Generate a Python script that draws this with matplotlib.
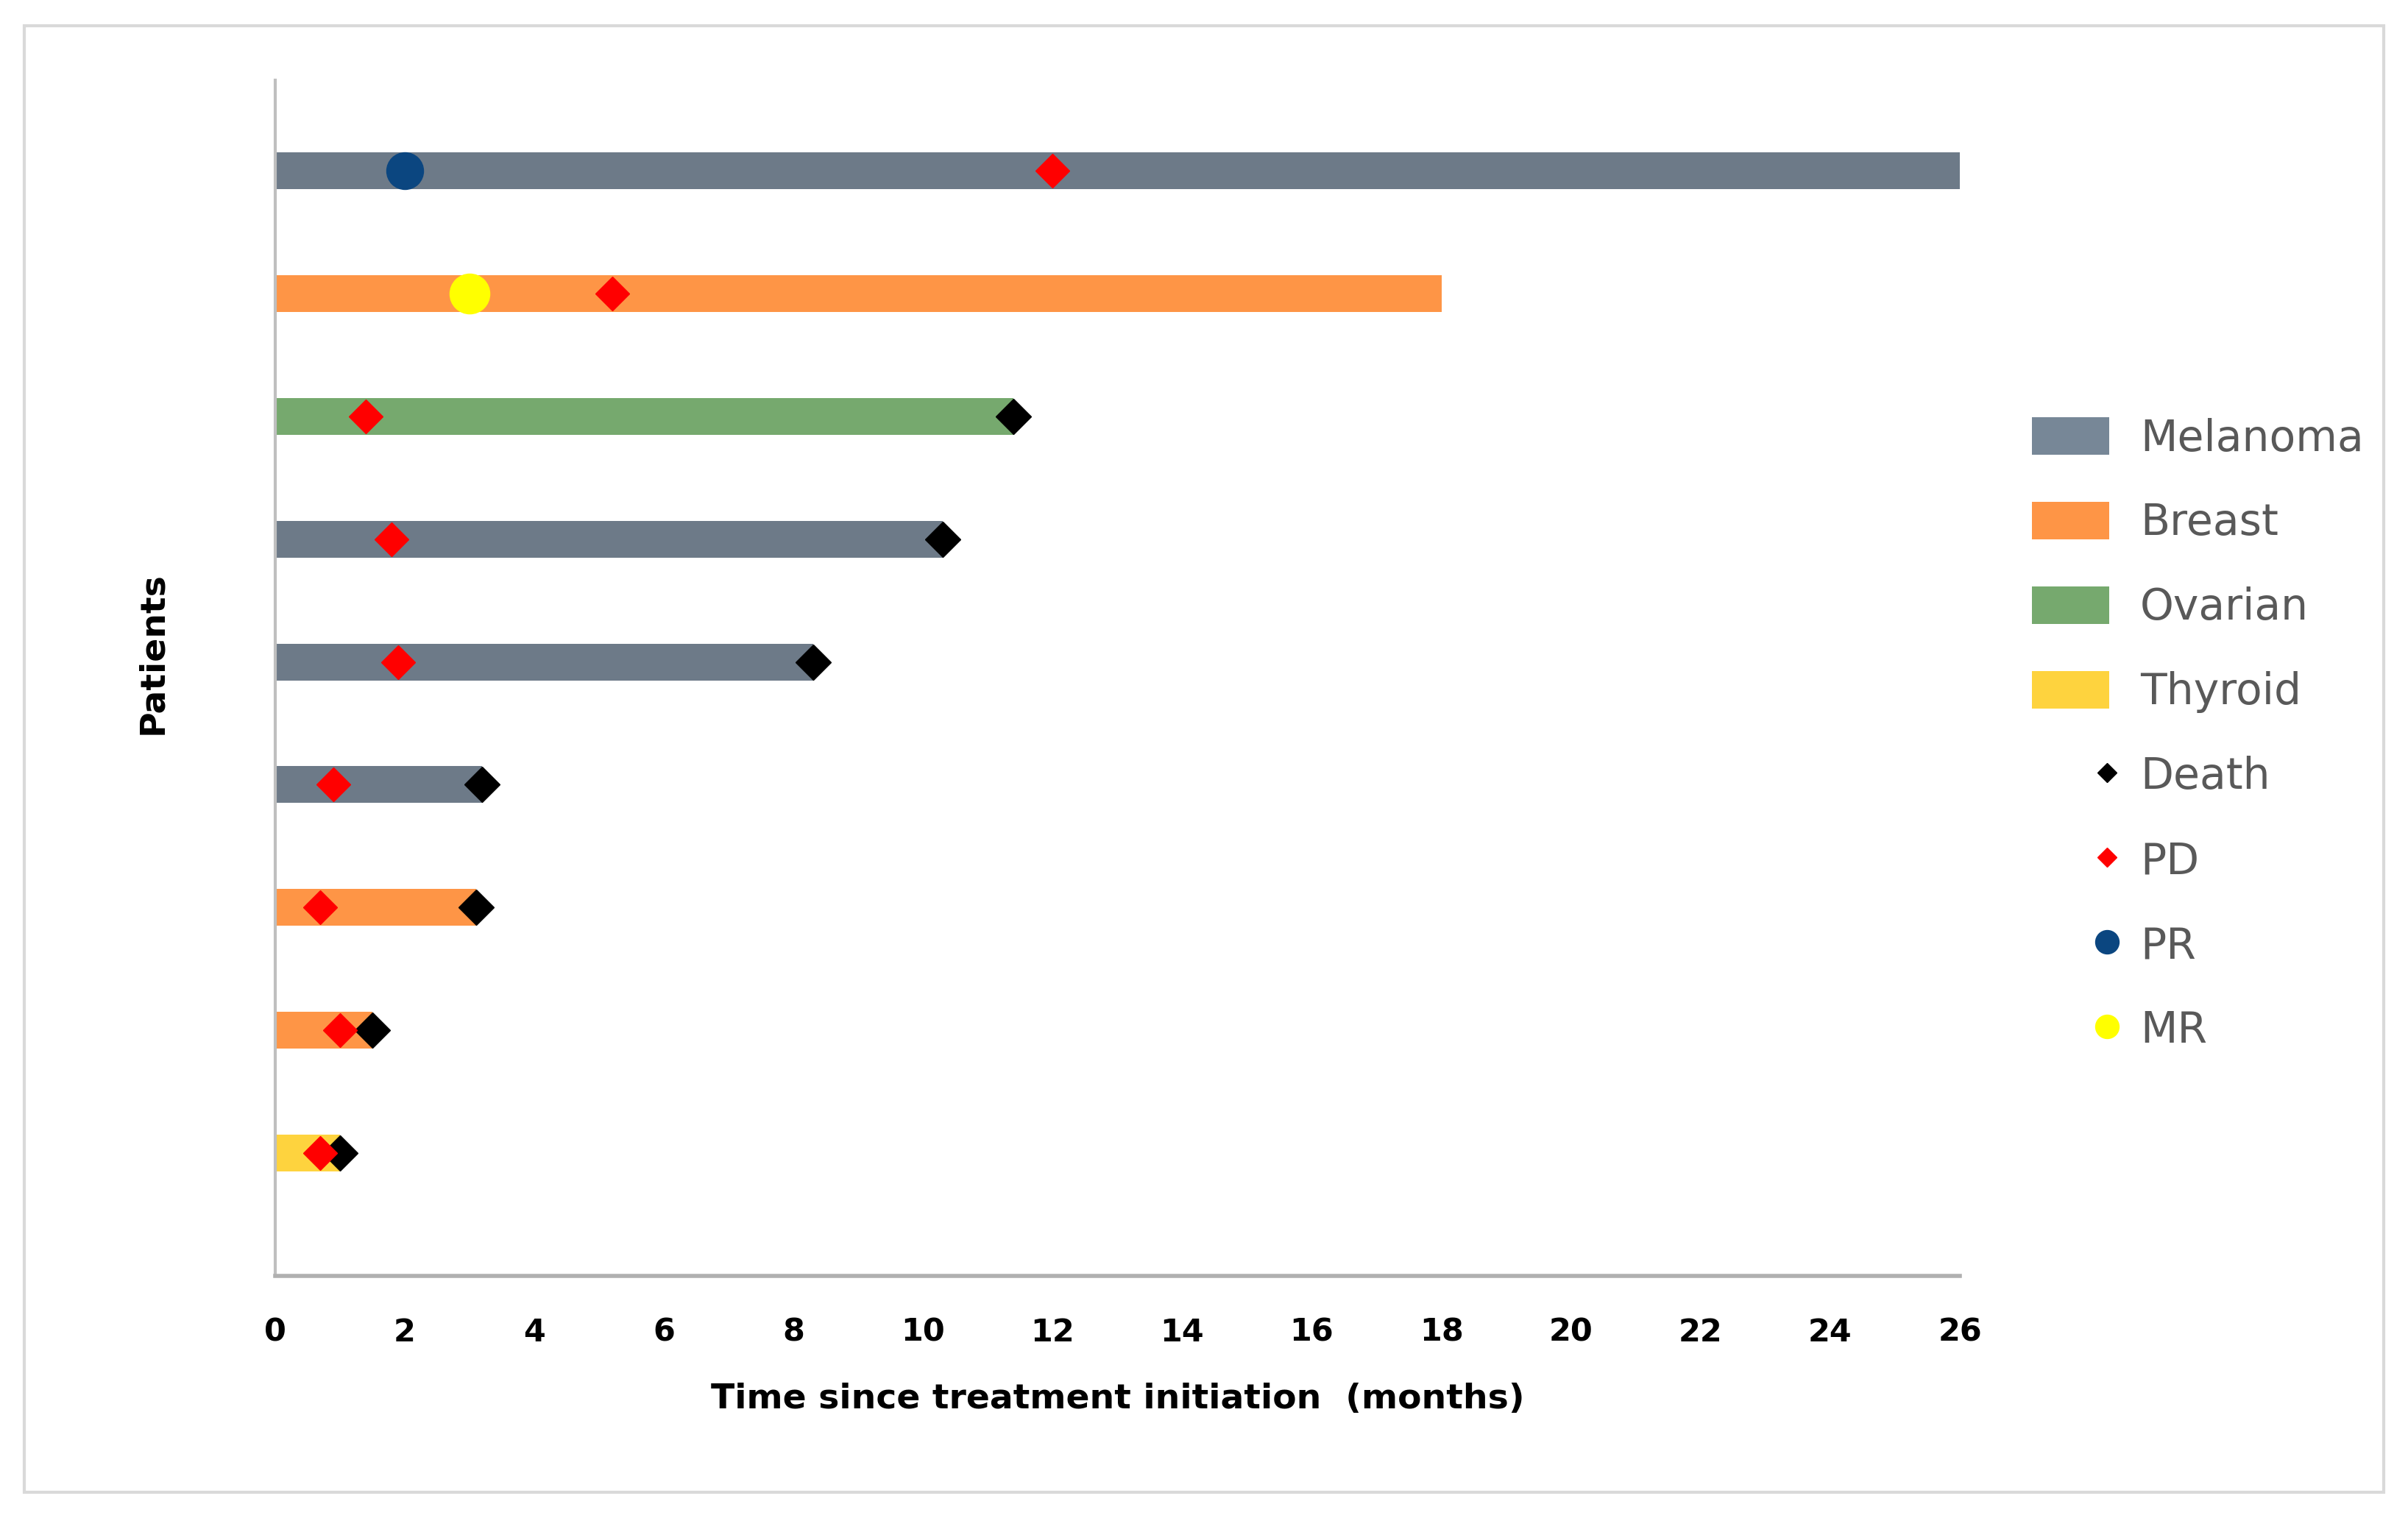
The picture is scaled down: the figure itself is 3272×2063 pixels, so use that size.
import numpy as np
import matplotlib
matplotlib.use("Agg")
import matplotlib.pyplot as plt
from matplotlib.patches import Patch, Rectangle
from matplotlib.lines import Line2D
from matplotlib.legend_handler import HandlerLine2D

# data, one row per patient, bottom row first
patients = [1, 2, 3, 4, 5, 6, 7, 8, 9]
cancer = ['Thyroid', 'Breast', 'Breast', 'Melanoma', 'Melanoma', 'Melanoma',
          'Ovarian', 'Breast', 'Melanoma']
months = [1.0, 1.5, 3.1, 3.2, 8.3, 10.3, 11.4, 18.0, 26.0]
death = [1.0, 1.5, 3.1, 3.2, 8.3, 10.3, 11.4, np.nan, np.nan]
prog = [0.7, 1.0, 0.7, 0.9, 1.9, 1.8, 1.4, 5.2, 12.0]
pr = [np.nan] * 8 + [2.0]
mr = [np.nan] * 7 + [3.0, np.nan]

cancer_types = ['Melanoma', 'Breast', 'Ovarian', 'Thyroid']
colors = {'Melanoma': '#6d7a88', 'Breast': '#fe9546', 'Ovarian': '#76a96e', 'Thyroid': '#fed33e'}
leg_colors = {'Melanoma': '#778797', 'Breast': '#fe9546', 'Ovarian': '#76a96e', 'Thyroid': '#fed33e'}


# puts the single legend marker at the right end of the handle box
# (the handler marks the middle of xdata, so centre xdata on that spot)
class RightMarker(HandlerLine2D):
    def get_xdata(self, legend, xdescent, ydescent, width, height, fontsize):
        m = -xdescent + width - 0.05 * fontsize
        return [m - 1, m + 1], [m]


fig = plt.figure(figsize=(32.72, 20.63), dpi=100)
fig.patches.append(Rectangle((0.0101, 0.0170), 0.9798, 0.9661, transform=fig.transFigure,
                             fill=False, edgecolor='#d9d9d9', linewidth=3))

ax = fig.add_axes([0.1142, 0.1595, 0.6997, 0.7879])

ax.barh(patients, months, height=0.3, left=0, color=[colors[c] for c in cancer], zorder=2)
ax.plot(pr, patients, 'o', color='#0b4680', markersize=36, linestyle='none', zorder=3)
ax.plot(mr, patients, 'o', color='#ffff00', markersize=39, linestyle='none', zorder=3)
ax.plot(death, patients, 'D', color='black', markersize=24, linestyle='none', zorder=4)
ax.plot(prog, patients, 'D', color='#ff0000', markersize=23, linestyle='none', zorder=5)

ax.set_xlim(0, 26)
ax.set_ylim(0, 9.74)
ax.set_xticks(np.arange(0, 27, 2))
ax.set_yticks([])
ax.tick_params(axis='x', length=0, pad=40, labelsize=31)
for lab in ax.get_xticklabels():
    lab.set_fontweight('bold')

for s in ['top', 'right']:
    ax.spines[s].set_visible(False)
ax.spines['left'].set_color('#bfbfbf')
ax.spines['left'].set_linewidth(3)
ax.spines['bottom'].set_color('#b0b0b0')
ax.spines['bottom'].set_linewidth(4)

ax.set_xlabel('Time since treatment initiation  (months)', fontsize=34, fontweight='bold', labelpad=34)
ax.set_ylabel('Patients', fontsize=34, fontweight='bold')
ax.yaxis.set_label_coords(-0.0627, 0.521)

handles = [Patch(facecolor=leg_colors[c], label=c) for c in cancer_types]
handles += [
    Line2D([], [], marker='D', color='black', linestyle='none', markersize=13, label='Death'),
    Line2D([], [], marker='D', color='#ff0000', linestyle='none', markersize=13, label='PD'),
    Line2D([], [], marker='o', color='#0b4680', linestyle='none', markersize=23, label='PR'),
    Line2D([], [], marker='o', color='#ffff00', linestyle='none', markersize=23, label='MR'),
]
hm = {h: RightMarker(numpoints=1) for h in handles[4:]}
fig.legend(handles=handles, loc='upper left', bbox_to_anchor=(0.8438, 0.7250), frameon=False,
           fontsize=42, labelcolor='#595959', handlelength=1.8, handleheight=0.95,
           handletextpad=0.72, labelspacing=0.99, borderpad=0, borderaxespad=0, handler_map=hm)

fig.savefig('out.png', dpi=100, facecolor='white')
